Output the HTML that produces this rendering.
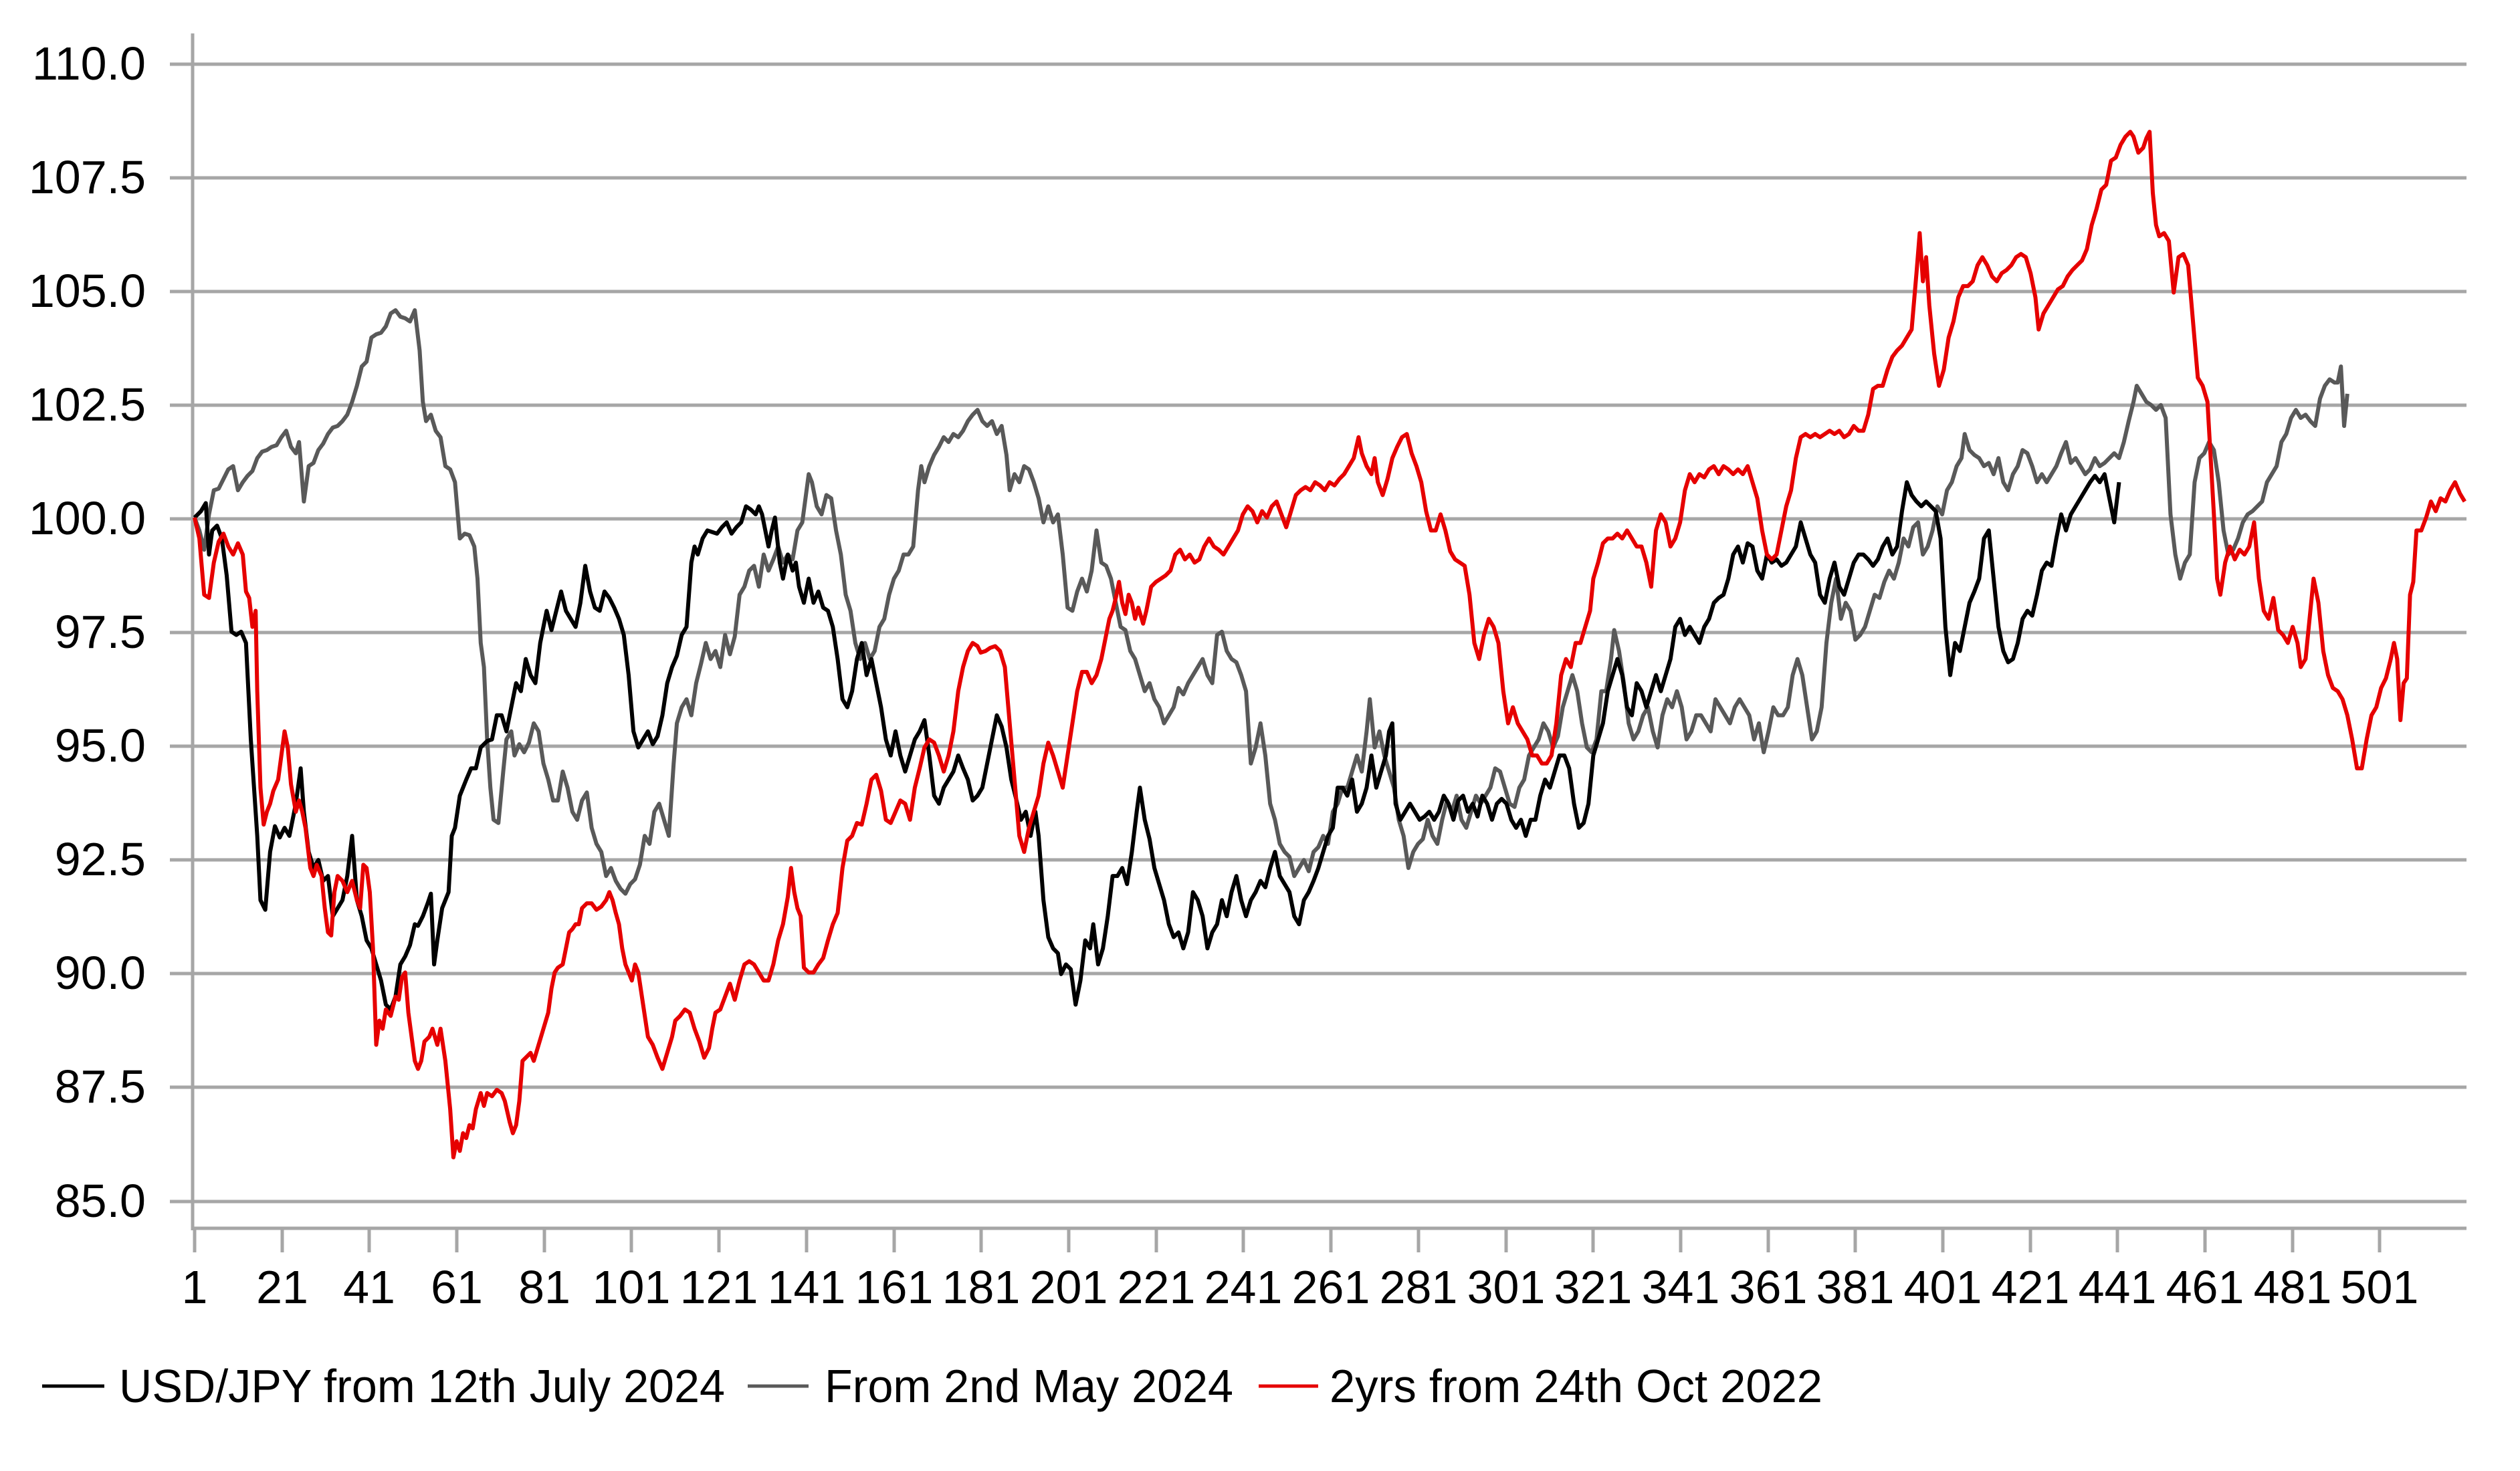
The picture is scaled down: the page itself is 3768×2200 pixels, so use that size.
<!DOCTYPE html>
<html><head><meta charset="utf-8"><style>html,body{margin:0;padding:0;background:#fff}svg{display:block}</style></head>
<body>
<svg width="3768" height="2200" viewBox="0 0 3768 2200" xmlns="http://www.w3.org/2000/svg" font-family="'Liberation Sans', Arial, sans-serif">
<rect width="3768" height="2200" fill="#fff"/>
<g stroke="#a6a6a6" stroke-width="5" fill="none">
<path d="M254 96H3688M254 266H3688M254 436H3688M254 606H3688M254 776H3688M254 946H3688M254 1116H3688M254 1286H3688M254 1456H3688M254 1626H3688M254 1797H3688"/>
<path d="M288 50V1840M288 1837H3688"/>
<path d="M291 1837v36M422 1837v36M552 1837v36M683 1837v36M814 1837v36M944 1837v36M1075 1837v36M1206 1837v36M1337 1837v36M1467 1837v36M1598 1837v36M1729 1837v36M1859 1837v36M1990 1837v36M2121 1837v36M2252 1837v36M2382 1837v36M2513 1837v36M2644 1837v36M2774 1837v36M2905 1837v36M3036 1837v36M3166 1837v36M3297 1837v36M3428 1837v36M3558 1837v36"/>
</g>
<g font-size="70" text-anchor="end" fill="#000">
<text x="218" y="119">110.0</text><text x="218" y="289">107.5</text><text x="218" y="459">105.0</text><text x="218" y="629">102.5</text><text x="218" y="799">100.0</text><text x="218" y="969">97.5</text><text x="218" y="1139">95.0</text><text x="218" y="1309">92.5</text><text x="218" y="1479">90.0</text><text x="218" y="1649">87.5</text><text x="218" y="1820">85.0</text>
</g>
<g font-size="70" text-anchor="middle" fill="#000">
<text x="291" y="1949">1</text><text x="422" y="1949">21</text><text x="552" y="1949">41</text><text x="683" y="1949">61</text><text x="814" y="1949">81</text><text x="944" y="1949">101</text><text x="1075" y="1949">121</text><text x="1206" y="1949">141</text><text x="1337" y="1949">161</text><text x="1467" y="1949">181</text><text x="1598" y="1949">201</text><text x="1729" y="1949">221</text><text x="1859" y="1949">241</text><text x="1990" y="1949">261</text><text x="2121" y="1949">281</text><text x="2252" y="1949">301</text><text x="2382" y="1949">321</text><text x="2513" y="1949">341</text><text x="2644" y="1949">361</text><text x="2774" y="1949">381</text><text x="2905" y="1949">401</text><text x="3036" y="1949">421</text><text x="3166" y="1949">441</text><text x="3297" y="1949">461</text><text x="3428" y="1949">481</text><text x="3558" y="1949">501</text>
</g>
<g transform="scale(2.404)" fill="none" stroke-width="2.5" stroke-linejoin="round">
<polyline stroke="#595959" points="121,322 124,330 127,342 130,320 133,305 136,304 139,298 142,292 145,290 148,305 151,300 154,296 157,293 160,285 163,281 166,280 169,278 172,277 175,272 178,268 181,278 184,282 186,275 189,312 192,290 195,288 198,280 201,276 204,270 207,266 210,265 213,262 216,258 219,250 222,240 225,228 228,225 231,210 234,208 237,207 240,203 243,195 246,193 249,197 252,198 255,200 258,193 261,218 263,250 265,262 268,258 271,268 274,272 277,290 280,292 283,300 286,335 289,332 292,333 295,340 297,360 299,400 301,415 303,460 305,490 307,510 310,512 313,480 315,460 318,455 320,470 323,463 326,468 329,462 332,450 335,455 338,475 341,485 344,498 347,498 350,480 353,490 356,505 359,510 362,498 365,493 368,515 371,525 374,530 377,545 380,540 383,548 386,553 389,556 392,550 395,547 398,538 401,520 404,525 407,505 410,500 413,510 416,520 419,475 421,450 424,440 427,435 430,445 433,425 436,413 439,400 442,410 445,405 448,415 451,395 454,407 457,396 460,370 463,365 466,355 469,352 472,365 475,345 478,355 481,348 484,340 487,350 490,345 493,348 496,330 499,325 501,310 503,295 505,300 508,315 511,320 514,308 517,310 520,330 523,345 526,370 529,380 532,400 535,410 538,400 541,410 544,405 547,390 550,385 553,370 556,360 559,355 562,345 565,345 568,340 571,305 573,290 575,300 578,290 581,283 584,278 587,272 590,275 593,270 596,272 599,268 602,262 605,258 608,255 611,262 614,265 617,262 620,270 623,265 626,283 628,305 631,295 634,300 637,290 640,292 643,300 646,310 649,325 652,315 655,325 658,320 661,345 664,378 667,380 670,368 673,360 676,368 679,355 682,330 685,350 688,352 691,360 694,375 697,390 700,392 703,405 706,410 709,420 712,430 715,425 718,435 721,440 724,450 727,445 730,440 733,428 736,432 739,425 742,420 745,415 748,410 751,420 754,425 757,395 760,393 763,405 766,410 769,412 772,420 775,430 778,475 781,465 784,450 787,470 790,500 793,510 796,525 799,530 802,533 805,545 808,540 811,535 814,542 817,530 820,527 823,520 826,525 829,505 832,500 835,490 838,490 841,480 844,470 847,480 850,455 852,435 855,465 858,455 861,470 864,480 867,490 870,510 873,520 876,540 879,530 882,525 885,522 888,510 891,520 894,525 897,510 900,498 903,505 906,495 909,510 912,515 915,505 918,495 921,500 924,495 927,490 930,478 933,480 936,490 939,500 942,502 945,490 948,485 951,470 954,465 957,460 960,450 963,455 966,465 969,458 972,440 975,430 978,420 981,430 984,450 987,465 990,468 993,460 996,430 999,430 1002,410 1004,392 1007,405 1010,425 1013,450 1016,460 1019,455 1022,445 1025,440 1028,455 1031,465 1034,445 1037,435 1040,440 1043,430 1046,440 1049,460 1052,455 1055,445 1058,445 1061,450 1064,455 1067,435 1070,440 1073,445 1076,450 1079,440 1082,435 1085,440 1088,445 1091,460 1094,450 1097,468 1100,455 1103,440 1106,445 1109,445 1112,440 1115,420 1118,410 1121,420 1124,440 1127,460 1130,455 1133,440 1136,400 1139,375 1142,360 1145,385 1148,375 1151,380 1154,398 1157,395 1160,390 1163,380 1166,370 1169,372 1172,362 1175,355 1178,360 1181,350 1184,335 1187,340 1190,328 1193,325 1196,345 1199,340 1202,330 1205,315 1208,320 1211,305 1214,300 1217,290 1220,285 1222,270 1225,280 1228,283 1231,285 1234,290 1237,288 1240,295 1243,285 1246,300 1249,305 1252,295 1255,290 1258,280 1261,282 1264,290 1267,300 1270,295 1273,300 1276,295 1279,290 1282,282 1285,275 1288,288 1291,285 1294,290 1297,295 1300,292 1303,285 1306,290 1309,288 1312,285 1315,282 1318,285 1321,275 1324,262 1327,250 1329,240 1332,245 1335,250 1338,252 1341,255 1344,252 1347,260 1350,320 1353,345 1356,360 1359,350 1362,345 1365,300 1368,285 1371,282 1374,275 1377,280 1380,300 1383,330 1386,345 1389,342 1392,335 1395,325 1398,320 1401,318 1404,315 1407,312 1410,300 1413,295 1416,290 1419,275 1422,270 1425,260 1428,255 1431,260 1434,258 1437,262 1440,265 1443,248 1446,240 1449,236 1452,238 1454,238 1456,228 1458,265 1460,245"/>
<polyline stroke="#000000" points="121,322 125,318 128,313 130,345 132,330 135,327 138,335 141,358 144,393 147,395 150,393 153,400 156,460 160,520 162,560 165,566 168,530 171,514 174,521 177,515 180,520 184,500 187,478 189,505 192,530 195,540 198,535 201,548 204,545 207,570 210,565 213,560 216,545 219,520 222,560 225,570 228,585 231,590 234,600 237,610 240,625 243,628 246,620 249,600 252,595 255,588 258,575 260,576 263,570 266,562 268,556 270,600 272,585 275,565 279,555 281,520 283,515 286,495 288,490 290,485 293,478 296,478 299,465 303,461 306,460 309,445 312,445 315,455 318,440 321,425 324,430 327,410 330,420 333,425 336,400 340,380 343,392 346,380 349,368 352,380 355,385 358,390 361,375 364,352 367,368 370,378 373,380 376,368 379,372 382,378 385,385 388,395 391,420 394,455 397,465 400,460 403,455 406,463 409,458 412,445 415,425 418,415 421,408 424,395 427,390 430,350 432,340 434,345 437,335 440,330 443,331 446,332 449,328 452,325 455,332 458,328 461,325 464,315 467,317 470,320 472,315 474,320 476,330 478,340 480,330 482,322 485,350 487,360 490,345 493,355 495,350 497,365 500,375 503,360 506,375 509,368 512,378 515,380 518,390 521,410 524,435 527,440 530,430 533,410 536,400 539,420 542,410 545,425 548,440 551,460 554,470 557,455 560,470 563,480 566,470 569,460 572,455 575,448 578,470 581,495 584,500 587,490 590,485 593,480 596,470 599,478 602,485 605,498 608,495 611,490 614,475 617,460 620,445 623,452 626,465 629,485 632,497 635,510 638,505 641,520 644,505 646,520 649,560 652,583 655,590 658,593 660,606 663,600 666,603 669,625 672,610 675,585 678,590 680,575 683,600 686,590 689,570 692,545 695,545 698,540 701,550 704,530 707,505 709,490 712,510 715,522 718,540 721,550 724,560 727,575 730,583 733,580 736,590 739,580 742,555 745,560 748,570 751,590 754,580 757,575 760,560 763,570 766,555 769,545 772,560 775,570 778,560 781,555 784,548 787,552 790,540 793,530 796,545 799,550 802,555 805,570 808,575 811,560 814,555 817,548 820,540 823,530 826,520 829,515 832,490 835,490 838,495 841,485 844,505 847,500 850,490 853,470 856,490 859,480 862,470 864,455 866,450 868,500 871,510 874,505 877,500 880,505 883,510 886,508 889,505 892,510 895,505 898,495 901,500 904,510 907,498 910,495 913,505 916,500 919,508 922,495 925,500 928,510 931,500 934,497 937,500 940,510 943,515 946,510 949,520 952,510 955,510 958,495 961,485 964,490 967,480 970,470 973,470 976,478 979,500 982,515 985,512 988,500 991,470 994,460 997,450 1000,430 1003,420 1006,410 1009,420 1012,440 1015,445 1018,425 1021,430 1024,440 1027,430 1030,420 1033,430 1036,420 1039,410 1042,390 1045,385 1048,395 1051,390 1054,395 1057,400 1060,390 1063,385 1066,375 1069,372 1072,370 1075,360 1078,345 1081,340 1084,350 1087,338 1090,340 1093,355 1096,360 1099,345 1102,350 1105,348 1108,352 1111,350 1114,345 1117,340 1120,325 1123,335 1126,345 1129,350 1132,370 1135,375 1138,360 1141,350 1144,365 1147,370 1150,360 1153,350 1156,345 1159,345 1162,348 1165,352 1168,348 1171,340 1174,335 1177,345 1180,340 1183,318 1186,300 1189,308 1192,312 1195,315 1198,312 1201,315 1204,318 1207,335 1210,390 1213,420 1216,400 1219,405 1222,390 1225,375 1228,368 1231,360 1234,335 1237,330 1240,360 1243,390 1246,405 1249,412 1252,410 1255,400 1258,385 1261,380 1264,383 1267,370 1270,355 1273,350 1276,352 1279,335 1282,320 1285,330 1288,320 1291,315 1294,310 1297,305 1300,300 1303,296 1306,300 1309,295 1312,310 1315,325 1318,300"/>
<polyline stroke="#e60000" points="121,322 124,335 127,370 130,372 133,350 136,337 139,332 142,340 145,345 148,338 151,345 153,368 155,372 157,390 159,380 160,430 162,490 164,513 166,505 168,500 170,492 173,485 175,470 177,455 179,465 181,488 184,505 186,498 188,505 190,515 193,540 195,545 197,538 200,545 202,565 204,580 206,582 208,555 210,545 213,548 216,555 219,548 222,560 224,565 226,538 228,540 230,555 232,590 234,650 236,635 238,640 240,628 243,632 246,620 248,622 250,608 252,605 254,630 256,645 258,660 260,665 262,660 264,648 267,645 269,640 272,650 274,640 277,660 280,690 282,720 284,710 286,716 288,705 290,708 292,700 294,702 296,690 299,680 301,688 303,680 306,682 309,678 312,680 314,685 317,698 319,705 321,700 323,685 325,660 327,658 330,655 332,660 335,650 338,640 341,630 343,615 345,605 347,602 350,600 352,590 354,580 356,578 358,575 360,575 362,565 365,562 368,562 371,566 374,564 377,560 379,555 381,560 383,568 385,575 387,590 389,600 391,605 393,610 395,600 397,605 400,625 403,645 406,650 409,658 412,665 415,655 418,645 420,635 423,632 426,628 429,630 432,640 435,648 438,658 441,652 443,640 445,630 448,628 451,620 454,612 457,622 460,610 463,600 466,598 469,600 472,605 475,610 478,610 481,600 484,585 487,575 490,558 492,540 494,555 496,565 498,570 500,602 503,605 506,605 509,600 512,596 515,585 518,575 521,568 524,540 527,523 530,520 533,512 536,513 539,500 542,485 545,482 548,492 551,510 554,512 557,505 560,498 563,500 566,510 569,490 572,478 575,465 578,460 581,462 584,470 587,480 590,470 593,455 596,430 599,415 602,405 605,400 608,402 610,406 613,405 616,403 619,402 622,405 625,415 628,450 631,485 634,520 637,530 640,515 643,505 646,495 649,475 652,462 655,470 658,480 661,490 664,470 667,450 670,430 673,418 676,418 679,425 682,420 685,410 688,395 690,385 692,380 694,372 696,362 698,375 700,382 702,370 704,375 706,385 708,378 711,388 713,380 716,365 719,362 722,360 725,358 728,355 731,345 734,342 737,348 740,345 743,350 746,348 749,340 752,335 755,340 758,342 761,345 764,340 767,335 770,330 773,320 776,315 779,318 782,325 785,318 788,322 791,315 794,312 797,320 800,328 803,318 806,308 809,305 812,303 815,305 818,300 821,302 824,305 827,300 830,302 833,298 836,295 839,290 842,285 845,272 847,282 850,290 853,295 855,285 857,300 860,308 863,298 866,285 869,278 872,272 875,270 878,282 881,290 884,300 887,318 890,330 893,330 896,320 899,330 902,343 905,348 908,350 911,352 914,370 917,400 920,410 923,395 926,385 929,390 932,400 935,430 938,450 941,440 944,450 947,455 950,460 953,470 956,470 959,475 962,475 965,470 968,450 971,420 974,410 977,415 980,400 983,400 986,390 989,380 991,360 994,350 997,338 1000,335 1003,335 1006,332 1009,335 1012,330 1015,335 1018,340 1021,340 1024,350 1027,365 1030,330 1033,320 1036,325 1039,340 1042,335 1045,325 1048,305 1051,295 1054,300 1057,295 1060,297 1063,292 1066,290 1069,295 1072,290 1075,292 1078,295 1081,292 1084,295 1087,290 1090,300 1093,310 1096,330 1099,345 1102,348 1105,345 1108,330 1111,315 1114,305 1117,285 1120,272 1123,270 1126,272 1129,270 1132,272 1135,270 1138,268 1141,270 1144,268 1147,272 1150,270 1153,265 1156,268 1159,268 1162,258 1165,242 1168,240 1171,240 1174,230 1177,222 1180,218 1183,215 1186,210 1189,205 1192,170 1194,145 1196,175 1198,160 1200,190 1203,220 1206,240 1209,230 1212,210 1215,200 1218,185 1221,178 1224,178 1227,175 1230,165 1233,160 1236,165 1239,172 1242,175 1245,170 1248,168 1251,165 1254,160 1257,158 1260,160 1263,170 1266,185 1268,205 1271,195 1274,190 1277,185 1280,180 1283,178 1286,172 1289,168 1292,165 1295,162 1298,155 1301,140 1304,130 1307,118 1310,115 1313,100 1316,98 1319,90 1322,85 1325,82 1327,85 1330,95 1333,92 1335,86 1337,82 1339,120 1341,140 1343,147 1346,145 1349,150 1352,182 1355,160 1358,158 1361,165 1364,200 1367,235 1370,240 1373,250 1375,285 1377,320 1379,360 1381,370 1384,350 1387,340 1390,348 1393,342 1396,345 1399,340 1402,325 1405,360 1408,380 1411,385 1414,372 1417,392 1420,395 1423,400 1426,390 1429,400 1431,415 1434,410 1437,380 1439,360 1442,375 1445,405 1448,420 1451,428 1454,430 1457,435 1460,445 1463,460 1466,478 1469,478 1472,460 1475,445 1478,440 1481,428 1484,422 1487,410 1489,400 1491,410 1493,448 1495,425 1497,422 1499,370 1501,362 1503,330 1506,330 1509,322 1512,312 1515,318 1518,310 1521,312 1524,305 1527,300 1530,307 1533,312"/>
</g>
<g stroke-width="5">
<line x1="63" y1="2073" x2="156" y2="2073" stroke="#000"/>
<line x1="1118" y1="2073" x2="1209" y2="2073" stroke="#595959"/>
<line x1="1882" y1="2073" x2="1971" y2="2073" stroke="#e60000"/>
</g>
<g font-size="70" fill="#000">
<text x="178" y="2097" textLength="906" lengthAdjust="spacingAndGlyphs">USD/JPY from 12th July 2024</text>
<text x="1233" y="2097" textLength="611" lengthAdjust="spacingAndGlyphs">From 2nd May 2024</text>
<text x="1988" y="2097" textLength="737" lengthAdjust="spacingAndGlyphs">2yrs from 24th Oct 2022</text>
</g>
</svg>
</body></html>
